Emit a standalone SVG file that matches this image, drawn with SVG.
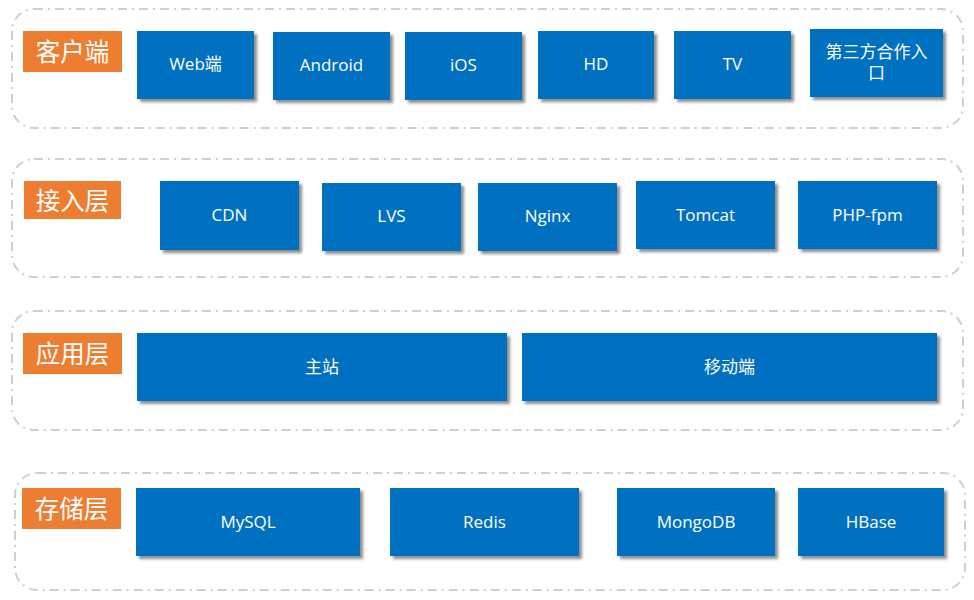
<svg xmlns="http://www.w3.org/2000/svg" width="974" height="600" viewBox="0 0 974 600">
<defs>
<filter id="sh" x="-10%" y="-10%" width="130%" height="140%">
<feGaussianBlur in="SourceAlpha" stdDeviation="1.5"/>
<feOffset dx="3" dy="3" result="b"/>
<feComponentTransfer><feFuncA type="linear" slope="0.45"/></feComponentTransfer>
<feMerge><feMergeNode/><feMergeNode in="SourceGraphic"/></feMerge>
</filter>
<style>
.layer{fill:none;stroke:#cfcfcf;stroke-width:2;stroke-dasharray:9 5 2 5}
.lab{fill:#ED7D31}
.labt{fill:#fff;font-family:"Noto Sans CJK SC","Noto Sans",sans-serif;font-size:24.5px;text-anchor:middle;dominant-baseline:central}
.box{fill:#0070C0;filter:url(#sh)}
.t{fill:#fff;font-family:"Open Sans","Noto Sans","Noto Sans CJK SC",sans-serif;font-size:17px;text-anchor:middle;dominant-baseline:central}
</style>
</defs>
<rect width="974" height="600" fill="#fff"/>
<g id="layer-client">
<rect class="layer" x="12" y="9" width="951" height="119" rx="22"/>
<rect class="lab" x="23" y="31" width="99" height="41"/><text class="labt" x="72.5" y="50.5">客户端</text>
</g>
<g id="n-web"><rect class="box" x="137" y="31" width="117" height="68"/><text class="t" x="195.5" y="63.5">Web端</text></g>
<g id="n-android"><rect class="box" x="273" y="32" width="117" height="68"/><text class="t" x="331.5" y="64.5">Android</text></g>
<g id="n-ios"><rect class="box" x="405" y="32" width="117" height="68"/><text class="t" x="463.5" y="64.5">iOS</text></g>
<g id="n-hd"><rect class="box" x="538" y="31" width="116" height="68"/><text class="t" x="596" y="63">HD</text></g>
<g id="n-tv"><rect class="box" x="674" y="31" width="117" height="68"/><text class="t" x="732.5" y="63">TV</text></g>
<g id="n-third"><rect class="box" x="810" y="29" width="133" height="68"/><text class="t" x="876.5" y="51">第三方合作入</text><text class="t" x="876.5" y="72">口</text></g>

<g id="layer-access">
<rect class="layer" x="12" y="159" width="951" height="118" rx="22"/>
<rect class="lab" x="24" y="181" width="97" height="38"/><text class="labt" x="72.5" y="199">接入层</text>
</g>
<g id="n-cdn"><rect class="box" x="160" y="181" width="139" height="69"/><text class="t" x="229.5" y="214">CDN</text></g>
<g id="n-lvs"><rect class="box" x="322" y="183" width="139" height="68"/><text class="t" x="391.5" y="215">LVS</text></g>
<g id="n-nginx"><rect class="box" x="478" y="183" width="139" height="68"/><text class="t" x="547.5" y="215">Nginx</text></g>
<g id="n-tomcat"><rect class="box" x="636" y="181" width="139" height="68"/><text class="t" x="705.5" y="214">Tomcat</text></g>
<g id="n-php"><rect class="box" x="798" y="181" width="139" height="68"/><text class="t" x="867.5" y="214">PHP-fpm</text></g>

<g id="layer-app">
<rect class="layer" x="12" y="311" width="951" height="119" rx="22"/>
<rect class="lab" x="23" y="333" width="99" height="41"/><text class="labt" x="72.5" y="352.5">应用层</text>
</g>
<g id="n-main"><rect class="box" x="137" y="333" width="370" height="68"/><text class="t" x="322" y="366">主站</text></g>
<g id="n-mobile"><rect class="box" x="522" y="333" width="415" height="68"/><text class="t" x="729.5" y="366">移动端</text></g>

<g id="layer-storage">
<rect class="layer" x="15" y="473" width="950" height="117" rx="22"/>
<rect class="lab" x="22" y="488" width="99" height="41"/><text class="labt" x="71.5" y="507.5">存储层</text>
</g>
<g id="n-mysql"><rect class="box" x="136" y="488" width="224" height="68"/><text class="t" x="248" y="521">MySQL</text></g>
<g id="n-redis"><rect class="box" x="390" y="488" width="189" height="68"/><text class="t" x="484.5" y="521">Redis</text></g>
<g id="n-mongo"><rect class="box" x="617" y="488" width="158" height="68"/><text class="t" x="696" y="521">MongoDB</text></g>
<g id="n-hbase"><rect class="box" x="798" y="488" width="146" height="68"/><text class="t" x="871" y="521">HBase</text></g>
<g id="connectors"></g>
</svg>
